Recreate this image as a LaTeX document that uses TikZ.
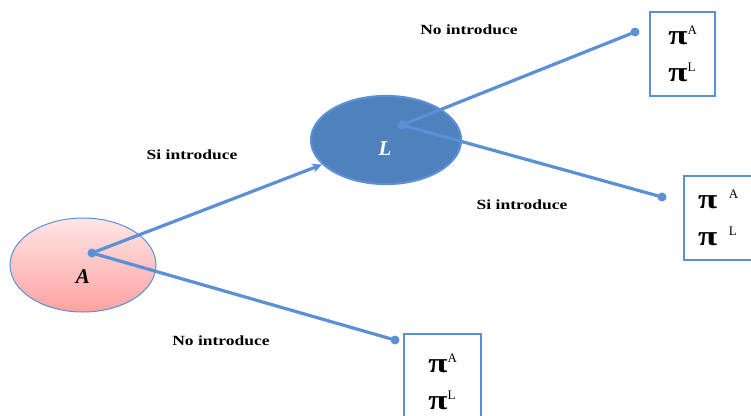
\documentclass[tikz,border=0pt]{standalone}
\usepackage{fontspec}
\setmainfont{Liberation Serif}
\newfontfamily\lblfont[FakeStretch=1.25]{Liberation Serif}
\usetikzlibrary{arrows.meta,shapes.geometric}

\definecolor{linkblue}{HTML}{5B8FD6}
\definecolor{nodeblue}{HTML}{4F81BD}
\definecolor{pinktop}{HTML}{FFE6E6}
\definecolor{pinkbot}{HTML}{FFA2A2}

\newcommand{\payof}[2][]{{\lblfont\bfseries π}#1\raisebox{10pt}{\fontsize{13}{13}\selectfont #2}}

\tikzset{
  link/.style={linkblue, line width=3.2pt, line cap=round},
  endpt/.style={circle, fill=linkblue, inner sep=0pt, minimum size=9pt},
  choice/.style={font=\lblfont\bfseries\fontsize{14}{14}\selectfont},
  player/.style={font=\bfseries\itshape\fontsize{21}{21}\selectfont},
  payoff/.style={draw=linkblue, line width=2.4pt, minimum height=84pt,
    anchor=north west, align=left, inner sep=0pt,
    font=\fontsize{28}{37}\selectfont},
}

\begin{document}
\begin{tikzpicture}[x=1pt,y=-1pt]
  \clip (0,0) rectangle (751,415);

  % players
  \node[ellipse, draw=linkblue, line width=1pt, top color=pinktop, bottom color=pinkbot,
        minimum width=146pt, minimum height=94pt] (A) at (83,265) {};
  \node[ellipse, draw=linkblue, line width=2.2pt, fill=nodeblue,
        minimum width=150pt, minimum height=88pt] (L) at (386,140) {};
  \node[player] (labA) at (83,277) {A};
  \node[player, white] (labL) at (385,149) {L};

  % branch points and ends
  \node[endpt] (dA) at (92,253) {};
  \node[endpt] (dL) at (402,125) {};
  \node[endpt] (e1) at (635,32) {};
  \node[endpt] (e2) at (662,197) {};
  \node[endpt] (e3) at (395,340) {};

  \draw[link, -{Stealth[length=10pt,width=9pt]}] (dA) -- (L);
  \draw[link] (dA) -- (e3);
  \draw[link] (dL) -- (e1);
  \draw[link] (dL) -- (e2);

  % payoffs
  \node[payoff, minimum width=65pt] (p1) at (649,11) {\payof{A}\\\payof{L}};
  \node[payoff, minimum width=68pt] (p2) at (683,175) {\payof[\ \,]{A}\\\payof[\ \,]{L}};
  \node[payoff, minimum width=77pt, minimum height=95pt] (p3) at (403,333) {\payof{A}\\\payof{L}};

  % choices
  \node[choice] (c1) at (469,30) {No introduce};
  \node[choice] (c2) at (192,155) {Si introduce};
  \node[choice] (c3) at (522,205) {Si introduce};
  \node[choice] (c4) at (221,341) {No introduce};
\end{tikzpicture}
\end{document}
